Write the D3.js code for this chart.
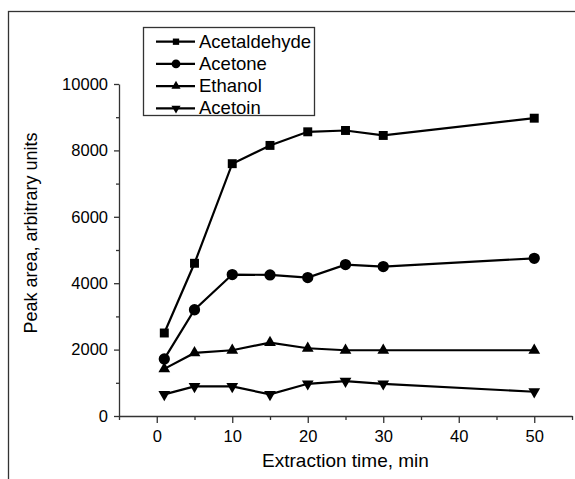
<!DOCTYPE html>
<html>
<head>
<meta charset="utf-8">
<script src="https://cdn.jsdelivr.net/npm/d3@7"></script>
<style>
  html, body { margin: 0; background: #fff; overflow: hidden; }
  svg { display: block; }
  text { font-family: "Liberation Sans", Arial, sans-serif; fill: #000; }
</style>
</head>
<body>
<div id="container"></div>
<script>
/* CONSTANTS AND GLOBALS */
const width = 575;
const height = 479;
const margin = { top: 84, bottom: 63, left: 119, right: 3 };

/* DATA */
const times = [1, 5, 10, 15, 20, 25, 30, 50];
const seriesNames = ["Acetaldehyde", "Acetone", "Ethanol", "Acetoin"];
const acetaldehyde = [2500, 4600, 7600, 8150, 8560, 8600, 8450, 8970];
const acetone = [1720, 3200, 4260, 4250, 4170, 4560, 4500, 4750];
const ethanol = [1420, 1900, 1980, 2210, 2040, 1980, 1980, 1980];
const acetoin = [650, 890, 890, 650, 970, 1050, 970, 730];
const xTicks = [0, 10, 20, 30, 40, 50];
const xMinor = [-5, 5, 15, 25, 35, 45, 55];
const yTicks = [0, 2000, 4000, 6000, 8000, 10000];
const yMinor = [1000, 3000, 5000, 7000, 9000];

const series = [acetaldehyde, acetone, ethanol, acetoin];
const symbols = [d3.symbolSquare, d3.symbolCircle, d3.symbolTriangle, d3.symbolTriangle];
const symSize = [80, 100, 60, 60];
const legendSize = [40, 60, 36, 36];

/* SCALES */
const xScale = d3.scaleLinear()
  .domain([-5, 55])
  .range([margin.left, width - margin.right]);

const yScale = d3.scaleLinear()
  .domain([0, 10000])
  .range([height - margin.bottom, margin.top]);

const svg = d3.select("#container")
  .append("svg")
  .attr("width", width)
  .attr("height", height);

// outer frame (runs off the right and bottom of the picture)
svg.append("rect")
  .attr("x", 8.5).attr("y", 11.5)
  .attr("width", 700).attr("height", 700)
  .attr("fill", "none")
  .attr("stroke", "#333")
  .attr("stroke-width", 1.3);

/* AXES */
const xAxis = svg.append("g")
  .attr("transform", `translate(0,${height - margin.bottom})`)
  .call(d3.axisBottom(xScale).tickValues(xTicks).tickSize(7).tickPadding(7).tickSizeOuter(0));
xAxis.append("g")
  .call(d3.axisBottom(xScale).tickValues(xMinor).tickSize(4).tickFormat("").tickSizeOuter(0))
  .select(".domain").remove();

const yAxis = svg.append("g")
  .attr("transform", `translate(${margin.left},0)`)
  .call(d3.axisLeft(yScale).tickValues(yTicks).tickFormat(d3.format("d")).tickSize(5).tickPadding(6).tickSizeOuter(0));
yAxis.append("g")
  .call(d3.axisLeft(yScale).tickValues(yMinor).tickSize(3).tickFormat("").tickSizeOuter(0))
  .select(".domain").remove();

svg.selectAll(".domain, .tick line")
  .attr("stroke", "#333")
  .attr("stroke-width", 1.3);
svg.selectAll(".tick text")
  .style("font-size", "16.5px")
  .style("font-family", "Liberation Sans, Arial, sans-serif")
  .attr("fill", "#000");

svg.append("text")
  .attr("x", (xScale(-5) + xScale(55)) / 2)
  .attr("y", 467)
  .attr("text-anchor", "middle")
  .style("font-size", "19px")
  .text("Extraction time, min");

svg.append("text")
  .attr("transform", `translate(37,${yScale(5000) - 17}) rotate(-90)`)
  .attr("text-anchor", "middle")
  .style("font-size", "18px")
  .text("Peak area, arbitrary units");

/* LINES AND MARKERS */
const line = d3.line()
  .x((d, i) => xScale(times[i]))
  .y(d => yScale(d));

series.forEach((values, s) => {
  svg.append("path")
    .datum(values)
    .attr("d", line)
    .attr("fill", "none")
    .attr("stroke", "#000")
    .attr("stroke-width", 2.2);

  svg.selectAll(`.pt${s}`)
    .data(values)
    .join("path")
    .attr("class", `pt${s}`)
    .attr("d", d3.symbol(symbols[s], symSize[s]))
    .attr("transform", (d, i) => `translate(${xScale(times[i])},${yScale(d)})${s === 3 ? " rotate(180)" : ""}`)
    .attr("fill", "#000");
});

/* LEGEND */
const legend = svg.append("g");
legend.append("rect")
  .attr("x", 143.5).attr("y", 27.5)
  .attr("width", 171).attr("height", 88)
  .attr("fill", "#fff")
  .attr("stroke", "#333")
  .attr("stroke-width", 1.3);

seriesNames.forEach((name, s) => {
  const y = 41.7 + s * 22.2;
  legend.append("line")
    .attr("x1", 156).attr("x2", 195)
    .attr("y1", y).attr("y2", y)
    .attr("stroke", "#000").attr("stroke-width", 2.2);
  legend.append("path")
    .attr("d", d3.symbol(symbols[s], legendSize[s]))
    .attr("transform", `translate(176,${y})${s === 3 ? " rotate(180)" : ""}`)
    .attr("fill", "#000");
  legend.append("text")
    .attr("x", 199)
    .attr("y", y + 6)
    .style("font-size", "18.5px")
    .text(name);
});
</script>
</body>
</html>
